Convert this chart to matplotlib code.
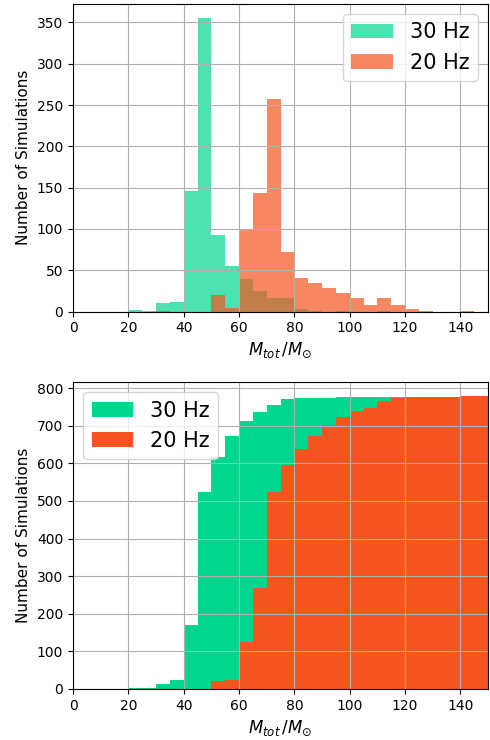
import numpy as np
import matplotlib
matplotlib.use("Agg")
import matplotlib.pyplot as plt

# bin edges for total mass (5 Msun wide)
edges = np.arange(0, 155, 5)
centers = edges[:-1] + 2.5

# counts per bin
counts_30hz = [0, 0, 0, 0, 2, 1, 10, 11, 146, 355, 93, 55, 40, 25, 16, 17,
               3, 1, 0, 1, 0, 0, 1, 0, 0, 0, 0, 0, 0, 0]
counts_20hz = [0, 0, 0, 0, 0, 0, 1, 0, 0, 0, 20, 4, 99, 144, 257, 72,
               41, 35, 28, 23, 16, 8, 17, 8, 3, 1, 0, 0, 1, 0]

labels = ["30 Hz", "20 Hz"]
green = "#00d68f"
orange = "#f5541e"

fig = plt.figure(figsize=(4.9, 7.4), dpi=100)
ax1 = fig.add_axes([0.149, 0.579, 0.847, 0.416])
ax2 = fig.add_axes([0.149, 0.069, 0.847, 0.415])

# top: plain histograms
ax1.hist(centers, bins=edges, weights=counts_30hz, color=green, alpha=0.7, label=labels[0])
ax1.hist(centers, bins=edges, weights=counts_20hz, color=orange, alpha=0.7, label=labels[1])
ax1.legend(loc="upper right", fontsize=15)

# bottom: cumulative
ax2.hist(centers, bins=edges, weights=counts_30hz, color=green, cumulative=True, label=labels[0])
ax2.hist(centers, bins=edges, weights=counts_20hz, color=orange, cumulative=True, label=labels[1])
ax2.legend(loc="upper left", fontsize=15)

for ax in (ax1, ax2):
    ax.set_xlim(0, 150)
    ax.set_xticks(np.arange(0, 150, 20))
    ax.grid(True)
    ax.set_ylabel("Number of Simulations", fontsize=11)
    ax.set_xlabel(r"$M_{tot}\,/M_{\odot}$", fontsize=12)
    ax.tick_params(labelsize=10)

plt.savefig("out.png", dpi=100)
